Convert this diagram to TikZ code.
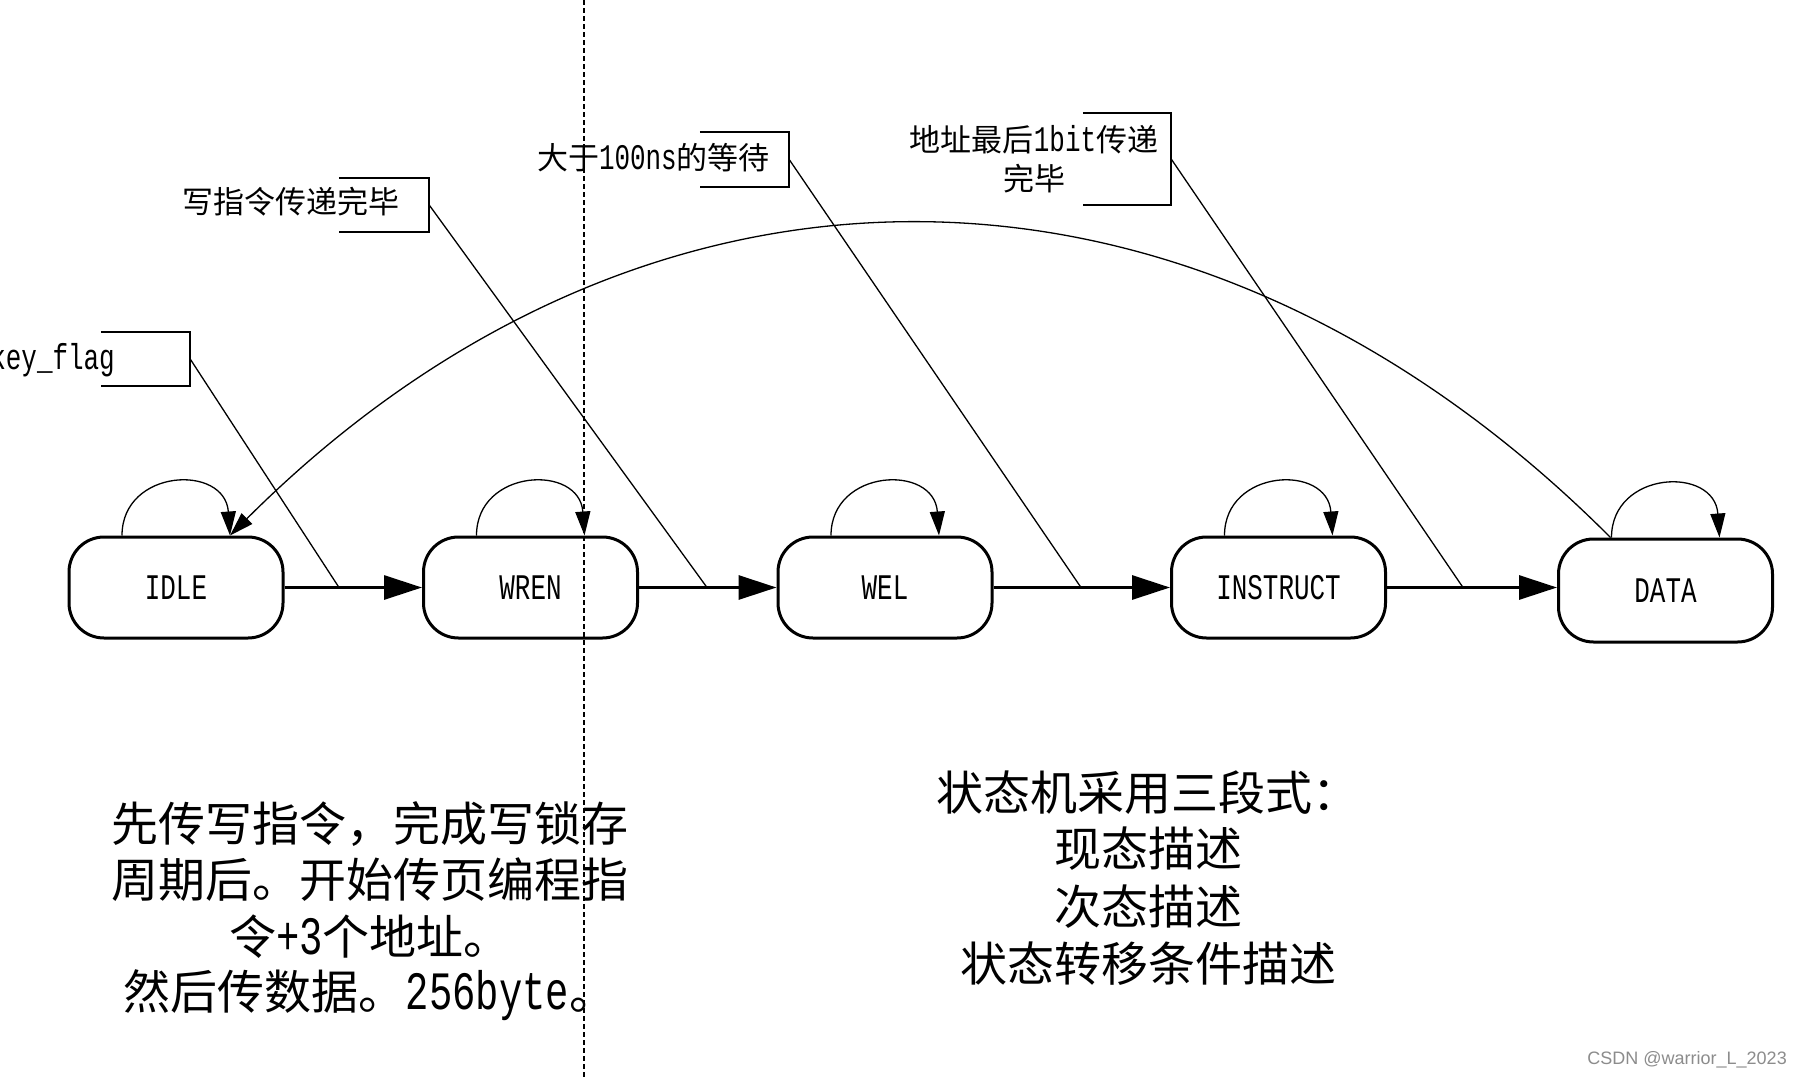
\documentclass[tikz,border=0pt]{standalone}
\usepackage{fontspec}
\setmainfont{Noto Sans CJK SC}
\newfontfamily\lat[FakeStretch=0.72]{Liberation Mono}
\newfontfamily\wmfont{Liberation Sans}
\usetikzlibrary{arrows.meta,calc}
\newcommand\latS[1]{{\lat\fontsize{36}{38}\selectfont #1}}
\newcommand\latB[1]{{\lat\fontsize{54}{57}\selectfont #1}}
\begin{document}
\begin{tikzpicture}[x=1pt,y=-1pt,
  stbox/.style={draw, line width=3pt, rounded corners=35pt, minimum width=214pt,
    minimum height=101pt, inner sep=0pt, font=\lat\fontsize{36}{38}\selectfont},
  tharrow/.style={line width=3pt, -{Triangle[length=38pt,width=24pt]}},
  looparrow/.style={line width=1.3pt, -{Triangle[length=24pt,width=15pt]}},
  conn/.style={line width=1.3pt},
  brk/.style={line width=1.5pt},
  brkbox/.style={inner sep=0pt, draw=none},
  small/.style={inner sep=0pt, font=\fontsize{31}{38}\selectfont},
  big/.style={inner sep=0pt, anchor=base, font=\fontsize{47}{57}\selectfont},
  dashline/.style={line width=1.2pt, dash pattern=on 5pt off 3pt}
]
\fill[white] (0,0) rectangle (1804,1079);
\useasboundingbox (0,0) rectangle (1804,1079);

% states
\node[stbox] (idle)  at (176,587.5)    {IDLE};
\node[stbox] (wren)  at (530.5,587.5)  {WREN};
\node[stbox] (wel)   at (885,587.5)    {WEL};
\node[stbox] (instr) at (1278.5,587.5) {INSTRUCT};
\node[stbox, minimum height=103pt] (data) at (1665.5,590.5) {DATA};

% forward transitions
\draw[tharrow] (idle) -- (wren);
\draw[tharrow] (wren) -- (wel);
\draw[tharrow] (wel) -- (instr);
\draw[tharrow] (instr.east) -- (instr.east -| data.west);

% self loops
\foreach \n in {idle,wren,wel,instr,data}{
  \draw[looparrow] ($(\n.north)+(-54,0)$) .. controls ($(\n.north)+(-54,-67)$)
     and ($(\n.north)+(49,-72)$) .. ($(\n.north)+(54,0)$);
}

% return arc DATA -> IDLE
\draw[looparrow] ($(data.north)+(-55,0)$) .. controls ($(data.north)+(-472,-418)$)
   and ($(idle.north)+(471,-416)$) .. ($(idle.north)+(54,0)$);

% junction points on transitions
\coordinate (j1) at (339,587.5);
\coordinate (j2) at (707,587.5);
\coordinate (j3) at (1081,587.5);
\coordinate (j4) at (1463,587.5);

% label brackets
\node[brkbox, minimum width=89pt, minimum height=54pt] (b1) at (145.5,359) {};
\node[brkbox, minimum width=90pt, minimum height=54pt] (b2) at (384,205) {};
\node[brkbox, minimum width=89pt, minimum height=55pt] (b3) at (744.5,159.5) {};
\node[brkbox, minimum width=88pt, minimum height=92pt] (b4) at (1127,159) {};
\foreach \b/\j in {b1/j1,b2/j2,b3/j3,b4/j4}{
  \draw[brk] (\b.north west) -- (\b.north east) -- (\b.south east) -- (\b.south west);
  \draw[conn] (\b.east) -- (\j);
}

% label texts
\node[inner sep=0pt, anchor=base east, font=\lat\fontsize{36}{38}\selectfont] (t1) at (115,369) {key\_flag};
\node[small, anchor=base east] (t2) at (400,213) {写指令传递完毕};
\node[small, anchor=base east] (t3) at (770,169) {大于\latS{100ns}的等待};
\node[small, anchor=base] (t4a) at (1034,151) {地址最后\latS{1bit}传递};
\node[small, anchor=base] (t4b) at (1034,190) {完毕};

% bottom left text
\node[big] (n1) at (370,841)  {先传写指令，完成写锁存};
\node[big] (n2) at (370,897)  {周期后。开始传页编程指};
\node[big] (n3) at (370,954)  {令\latB{+3}个地址。};
\node[big] (n4) at (370,1009) {然后传数据。\latB{256byte}。};

% bottom right text
\node[big] (m1) at (1148,810) {状态机采用三段式：};
\node[big] (m2) at (1148,866) {现态描述};
\node[big] (m3) at (1148,924) {次态描述};
\node[big] (m4) at (1148,981) {状态转移条件描述};

% watermark
\node[inner sep=0pt, anchor=east, text=black!45, font=\wmfont\fontsize{18}{20}\selectfont] (wm) at (1787,1060) {CSDN @warrior\_L\_2023};

% dashed divider
\coordinate (dtop) at (584,0);
\coordinate (dbot) at (584,1079);
\draw[dashline] (dtop) -- (dbot);
\end{tikzpicture}
\end{document}
